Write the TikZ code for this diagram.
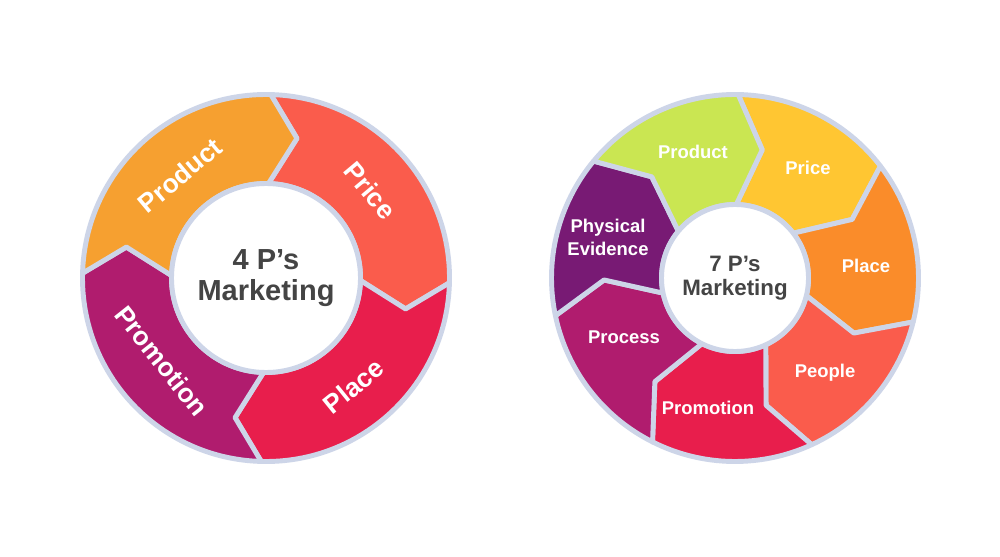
\documentclass[tikz,border=0pt]{standalone}
\usepackage{fontspec}
\setmainfont{Liberation Sans}
\usetikzlibrary{calc}
\definecolor{ringgrey}{RGB}{205,213,232}
\definecolor{hubtext}{RGB}{68,68,68}
\definecolor{prodorange}{RGB}{246,160,48}
\definecolor{pricecoral}{RGB}{250,92,76}
\definecolor{placered}{RGB}{232,30,76}
\definecolor{promopurple}{RGB}{176,28,110}
\definecolor{prodlime}{RGB}{202,230,82}
\definecolor{priceyellow}{RGB}{255,198,50}
\definecolor{placeorange}{RGB}{250,140,42}
\definecolor{evidpurple}{RGB}{120,26,116}

\begin{document}
\begin{tikzpicture}[x=0.2mm, y=0.2mm,
  seg/.style={draw=ringgrey, line width=2.8pt, line join=round},
  hub/.style={circle, fill=white, draw=ringgrey, line width=2.8pt, align=center, text=hubtext, inner sep=0pt},
  biglbl/.style={text=white, font=\bfseries\fontsize{15}{18}\selectfont},
  smalllbl/.style={text=white, font=\bfseries\fontsize{10.5}{13}\selectfont, align=center}]
\fill[white] (0,0) rectangle (1000,556);
\useasboundingbox (0,0) rectangle (1000,556);

% 4 P's ring
\begin{scope}[shift={(266,278)}]
\foreach \a/\col in {88.5/pricecoral, -1.5/placered, -91.5/promopurple, -181.5/prodorange}{
  \pgfmathsetmacro\b{\a-90}
  \pgfmathsetmacro\ta{\a-11}
  \pgfmathsetmacro\tb{\b-11}
  \filldraw[seg, fill=\col] (\a:183.5) arc[start angle=\a, end angle=\b, radius=3.67cm]
    -- (\tb:143) -- (\b:94.5) arc[start angle=\b, end angle=\a, radius=1.89cm] -- (\ta:143) -- cycle;
}
\node[hub, minimum size=3.78cm, font=\bfseries\fontsize{16.5}{18}\selectfont] (hubfour) {4 P’s\\Marketing};
\node[biglbl, rotate=40] (productfour) at (130:134) {Product};
\node[biglbl, rotate=-50] (pricefour) at (40:136) {Price};
\node[biglbl, rotate=39] (placefour) at (-51:139) {Place};
\node[biglbl, rotate=-51.5] (promofour) at (218.5:133) {Promotion};
\end{scope}

% 7 P's ring
\begin{scope}[shift={(735,278)}]
\foreach \a/\col in {89/priceyellow, 37.57/placeorange, -13.86/pricecoral, -65.29/placered,
                     -116.71/promopurple, -168.14/evidpurple, -219.57/prodlime}{
  \pgfmathsetmacro\b{\a-51.43}
  \pgfmathsetmacro\ta{\a-11}
  \pgfmathsetmacro\tb{\b-11}
  \filldraw[seg, fill=\col] (\a:183.5) arc[start angle=\a, end angle=\b, radius=3.67cm]
    -- (\tb:131) -- (\b:73.5) arc[start angle=\b, end angle=\a, radius=1.47cm] -- (\ta:131) -- cycle;
}
\node[hub, minimum size=2.94cm, font=\bfseries\fontsize{12.7}{14}\selectfont] (hubseven) {7 P’s\\Marketing};
\node[smalllbl] (productseven) at (-42,126) {Product};
\node[smalllbl] (priceseven) at (73,110) {Price};
\node[smalllbl] (placeseven) at (131,12) {Place};
\node[smalllbl] (peopleseven) at (90,-95) {People};
\node[smalllbl] (promoseven) at (-27,-130) {Promotion};
\node[smalllbl] (processseven) at (-111,-59) {Process};
\node[smalllbl] (evidseven) at (-127,41) {Physical\\Evidence};
\end{scope}
\end{tikzpicture}
\end{document}
